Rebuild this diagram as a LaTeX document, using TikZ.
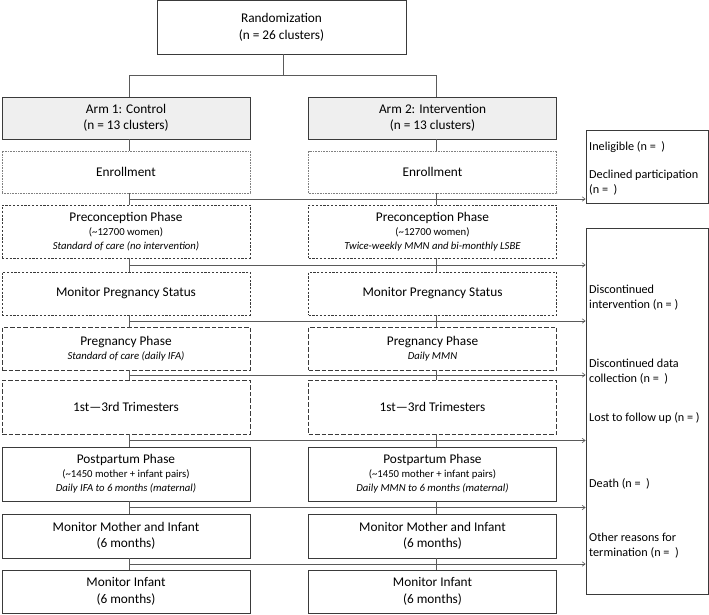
\documentclass[tikz,border=0pt]{standalone}
\usepackage{fontspec}
\setmainfont{Carlito}
\usetikzlibrary{calc,arrows.meta}
\definecolor{boxline}{HTML}{3A3A3A}
\definecolor{connline}{HTML}{5A5A5A}
\definecolor{armfill}{HTML}{EFEFEF}
\newcommand{\bigtxt}{\fontsize{13.3}{16.5}\selectfont}
\newcommand{\bigtight}{\fontsize{13.3}{14}\selectfont}
\newcommand{\smalltxt}{\fontsize{10.7}{14}\selectfont}
\begin{document}
\begin{tikzpicture}[x=1pt,y=-1pt,
  box/.style={draw=boxline,line width=0.8pt,minimum width=248pt,inner sep=0pt,align=center,font=\bigtxt},
  solidbox/.style={box},
  dotbox/.style={box,draw=gray,dash pattern=on 0.8pt off 0.8pt},
  shortdash/.style={box,dash pattern=on 2.2pt off 1.6pt},
  longdash/.style={box,dash pattern=on 4.5pt off 2pt},
  armbox/.style={box,fill=armfill},
  sidebox/.style={draw=boxline,line width=0.8pt,minimum width=122pt,inner sep=0pt},
  sidetext/.style={anchor=west,align=left,inner sep=0pt,font=\fontsize{12.2}{15}\selectfont},
  conn/.style={draw=connline,line width=0.8pt},
  arr/.style={draw=connline,line width=0.6pt,-{Straight Barb[length=3pt,width=4.5pt]}}
]
\useasboundingbox (0,0) rectangle (709,614);

% Randomization
\node[solidbox,minimum width=249pt,minimum height=53.5pt] (rand) at (281.5,27.25) {Randomization\\(n = 26 clusters)};

% Arms
\node[armbox,minimum height=42pt] (arm1) at (126,118) {Arm 1: Control\\(n = 13 clusters)};
\node[armbox,minimum height=42pt] (arm2) at (432.5,118) {Arm 2: Intervention\\(n = 13 clusters)};

% Left column
\node[dotbox,minimum height=42pt] (enr1) at (126,172) {Enrollment};
\node[shortdash,minimum height=53pt,font=\bigtight] (pre1) at (126,231.5) {Preconception Phase\\{\smalltxt(\textasciitilde12700 women)}\\{\smalltxt\itshape Standard of care (no intervention)}};
\node[shortdash,minimum height=43pt] (mps1) at (126,293.5) {Monitor Pregnancy Status};
\node[longdash,minimum height=43pt,font=\bigtight] (preg1) at (126,348.5) {Pregnancy Phase\\{\smalltxt\itshape Standard of care (daily IFA)}};
\node[longdash,minimum height=54pt] (tri1) at (126,407) {1st—3rd Trimesters};
\node[solidbox,minimum height=54pt,font=\bigtight] (post1) at (126,474) {Postpartum Phase\\{\smalltxt(\textasciitilde1450 mother + infant pairs)}\\{\smalltxt\itshape Daily IFA to 6 months (maternal)}};
\node[solidbox,minimum height=44pt] (mmi1) at (126,536) {Monitor Mother and Infant\\(6 months)};
\node[solidbox,minimum height=43pt] (mi1) at (126,591.5) {Monitor Infant\\(6 months)};

% Right column
\node[dotbox,minimum height=42pt] (enr2) at (432.5,172) {Enrollment};
\node[shortdash,minimum height=53pt,font=\bigtight] (pre2) at (432.5,231.5) {Preconception Phase\\{\smalltxt(\textasciitilde12700 women)}\\{\smalltxt\itshape Twice-weekly MMN and bi-monthly LSBE}};
\node[shortdash,minimum height=43pt] (mps2) at (432.5,293.5) {Monitor Pregnancy Status};
\node[longdash,minimum height=43pt,font=\bigtight] (preg2) at (432.5,348.5) {Pregnancy Phase\\{\smalltxt\itshape Daily MMN}};
\node[longdash,minimum height=54pt] (tri2) at (432.5,407) {1st—3rd Trimesters};
\node[solidbox,minimum height=54pt,font=\bigtight] (post2) at (432.5,474) {Postpartum Phase\\{\smalltxt(\textasciitilde1450 mother + infant pairs)}\\{\smalltxt\itshape Daily MMN to 6 months (maternal)}};
\node[solidbox,minimum height=44pt] (mmi2) at (432.5,536) {Monitor Mother and Infant\\(6 months)};
\node[solidbox,minimum height=43pt] (mi2) at (432.5,591.5) {Monitor Infant\\(6 months)};

% Side boxes
\node[sidebox,minimum height=73pt] (s1) at (647,166.5) {};
\node[sidebox,minimum height=366pt] (s2) at (647,411) {};

\node[sidetext] (t1) at (589,147) {Ineligible (n =\ \ )};
\node[sidetext] (t2) at (589,183) {Declined participation\\(n =\ \ )};
\node[sidetext] (t3) at (589,297.5) {Discontinued\\intervention (n = )};
\node[sidetext] (t4) at (589,371.5) {Discontinued data\\collection (n =\ \ )};
\node[sidetext] (t5) at (589,418) {Lost to follow up (n = )};
\node[sidetext] (t6) at (589,484) {Death (n =\ \ )};
\node[sidetext] (t7) at (589,545.5) {Other reasons for\\termination (n =\ \ )};

% Randomization split
\draw[conn] ([xshift=1.5pt]rand.south) -- ($([xshift=1.5pt]rand.south)!.5!([xshift=1.5pt]rand.south |- arm1.north)$) coordinate (sp);
\draw[conn] ([xshift=3pt]arm1.north) |- (sp) -| ([xshift=3.5pt]arm2.north);

% Vertical connectors
\foreach \a/\b in {arm1/enr1,enr1/pre1,pre1/mps1,mps1/preg1,preg1/tri1,tri1/post1,post1/mmi1,mmi1/mi1}
  \draw[conn] ([xshift=3pt]\a.south) -- ([xshift=3pt]\b.north);
\foreach \a/\b in {arm2/enr2,enr2/pre2,pre2/mps2,mps2/preg2,preg2/tri2,tri2/post2,post2/mmi2,mmi2/mi2}
  \draw[conn] ([xshift=3.5pt]\a.south) -- ([xshift=3.5pt]\b.north);

% Horizontal exit arrows
\coordinate (h1) at ($([xshift=3pt]enr1.south)!.5!([xshift=3pt]pre1.north)$);
\draw[arr] (h1) -- (h1 -| s1.west);
\foreach \a/\b/\n in {pre1/mps1/2,mps1/preg1/3,preg1/tri1/4,tri1/post1/5,post1/mmi1/6,mmi1/mi1/7}{
  \coordinate (h\n) at ($([xshift=3pt]\a.south)!.5!([xshift=3pt]\b.north)$);
  \draw[arr] (h\n) -- (h\n -| s2.west);
}
\end{tikzpicture}
\end{document}
